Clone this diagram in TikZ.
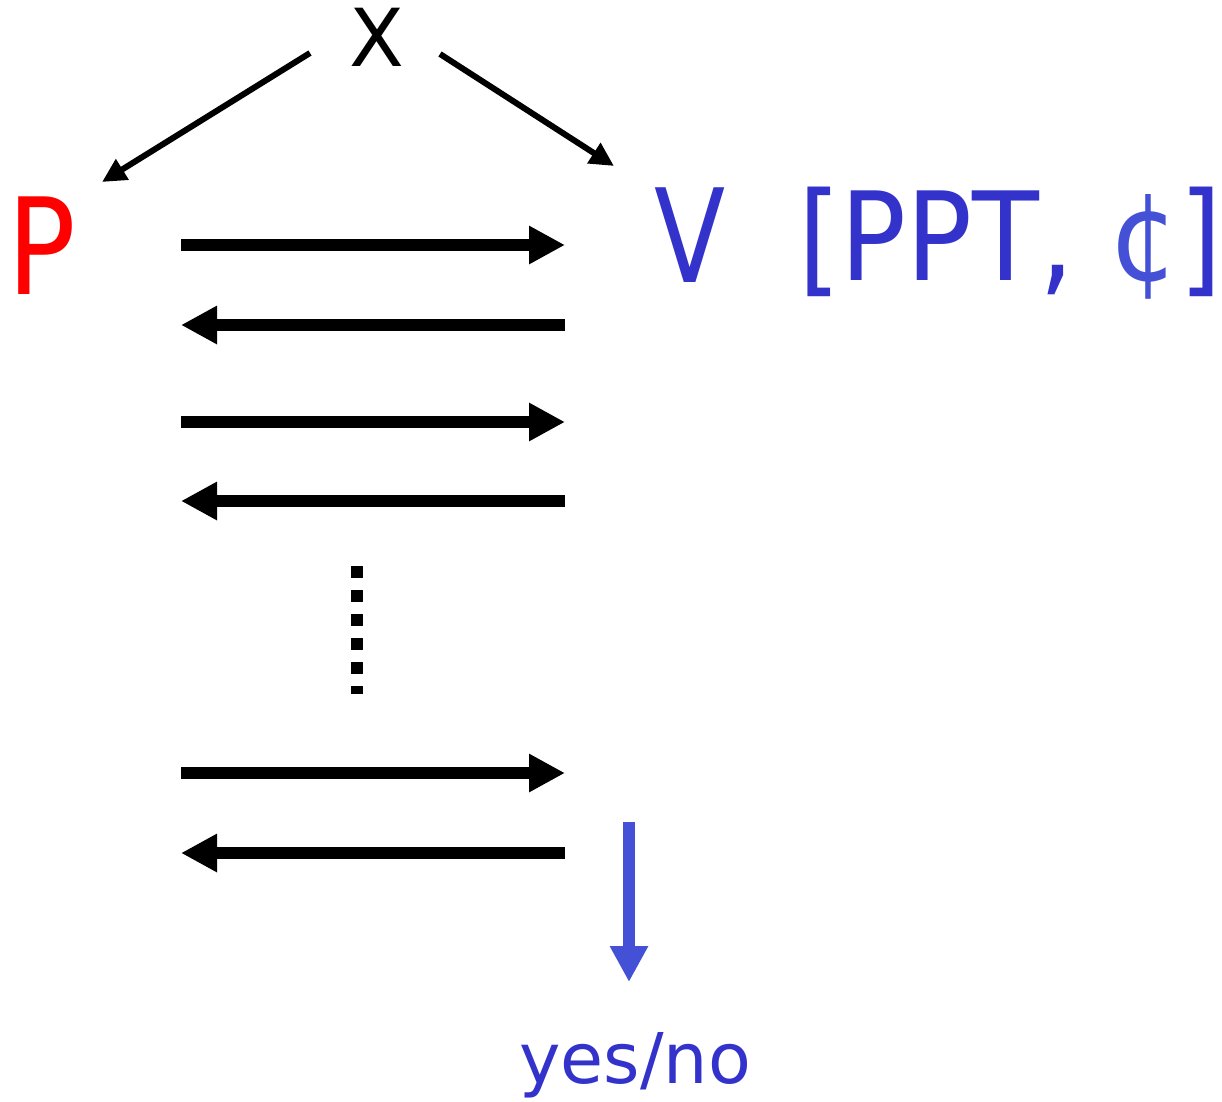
\documentclass[tikz,border=0pt]{standalone}
\usepackage{fontspec}
\setmainfont{DejaVu Sans}
\usetikzlibrary{arrows.meta}
\definecolor{pred}{HTML}{FF0000}
\definecolor{vblue}{HTML}{3333CC}
\definecolor{cblue}{HTML}{4450D6}
\begin{document}
\begin{tikzpicture}[x=1pt,y=-1pt,
  flow/.style={line width=12pt, -{Triangle[length=36pt,width=36pt]}},
  diag/.style={line width=6pt, -{Triangle[length=24pt,width=23pt]}},
  txt/.style={inner sep=0pt, anchor=base}]
\useasboundingbox (0,0) rectangle (1222,1101);

% labels
\node[txt, font=\fontsize{80}{80}\selectfont] (x) at (377,66) {X};
\node[txt, text=pred, xscale=0.85, font=\fontsize{134}{134}\selectfont] (p) at (42,294) {P};
\node[txt, text=vblue, xscale=0.8, font=\fontsize{130}{130}\selectfont] (v) at (690,282) {V};
\node[txt, anchor=base west, text=vblue, xscale=0.89,
      font=\fontsize{123}{123}\selectfont] (ppt) at (798,280) {[PPT, {\color{cblue}¢}]};
\node[txt, text=vblue, font=\fontsize{70}{70}\selectfont] (yn) at (635,1083) {yes/no};

% X sends its input to both parties
\coordinate (xl) at (310,53);
\coordinate (pin) at (102,182);
\coordinate (xr) at (440,54);
\coordinate (vin) at (614,166);
\draw[diag] (xl) -- (pin);
\draw[diag] (xr) -- (vin);

% rounds of messages
\foreach \i/\y/\d in {1/245/r, 2/325/l, 3/422/r, 4/501/l, 5/773/r, 6/853/l} {
  \coordinate (a\i) at (181,\y);
  \coordinate (b\i) at (565,\y);
  \if\d r
    \draw[flow] (a\i) -- (b\i);
  \else
    \draw[flow] (b\i) -- (a\i);
  \fi
}

% further rounds
\coordinate (dtop) at (357,566);
\coordinate (dbot) at (357,694);
\draw[line width=12pt, dash pattern=on 12pt off 12pt] (dtop) -- (dbot);

% verdict
\coordinate (vout) at (629,822);
\coordinate (vres) at (629,982);
\draw[flow, draw=cblue, fill=cblue] (vout) -- (vres);
\end{tikzpicture}
\end{document}
